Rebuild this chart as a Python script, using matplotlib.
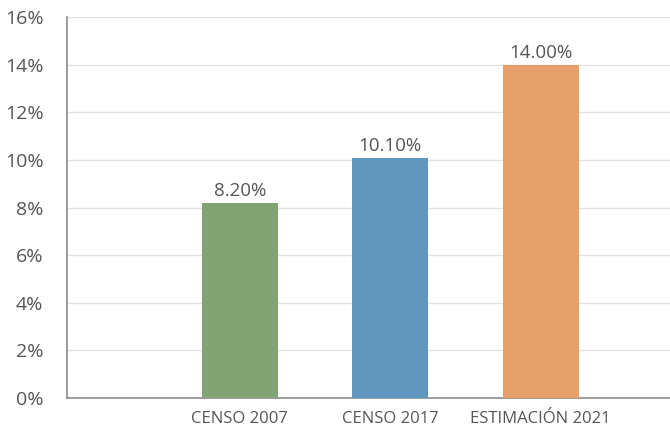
import matplotlib
matplotlib.use("Agg")
import matplotlib.pyplot as plt
import numpy as np

categories = ["", "CENSO 2007", "CENSO 2017", "ESTIMACIÓN 2021"]
values = [np.nan, 8.2, 10.1, 14.0]
bar_colors = ["#ffffff", "#82a474", "#6096be", "#e8a06b"]
yticks = [0, 2, 4, 6, 8, 10, 12, 14, 16]

text_color = "#555555"
plt.rcParams["font.family"] = ["Open Sans", "DejaVu Sans"]

fig = plt.figure(figsize=(6.7, 4.3), dpi=100)
ax = fig.add_axes([0.1, 0.0744, 0.9, 0.886])

x = np.arange(len(categories))
bars = ax.bar(x, values, width=0.505, color=bar_colors, zorder=3)

for xi, v in zip(x, values):
    if not np.isnan(v):
        ax.text(xi, v + 0.1, f"{v:.2f}%", ha="center", va="bottom",
                fontsize=13.5, color=text_color, zorder=4)

ax.set_ylim(0, 16)
ax.set_xlim(-0.15, 3.86)
ax.set_yticks(yticks)
ax.set_yticklabels([f"{t}%" for t in yticks])
ax.set_xticks(x)
ax.set_xticklabels(categories)
ax.tick_params(axis="y", length=0, pad=17, labelsize=14, labelcolor=text_color)
ax.tick_params(axis="x", length=0, pad=9, labelsize=12, labelcolor=text_color)

ax.grid(axis="y", color="#e2e2e2", linewidth=1, zorder=0)
ax.set_axisbelow(True)
for side in ["top", "right"]:
    ax.spines[side].set_visible(False)
ax.spines["left"].set_color("#8c8c8c")
ax.spines["bottom"].set_color("#8c8c8c")
ax.spines["left"].set_linewidth(1.2)
ax.spines["bottom"].set_linewidth(1.2)

fig.savefig("out.png", dpi=100)
